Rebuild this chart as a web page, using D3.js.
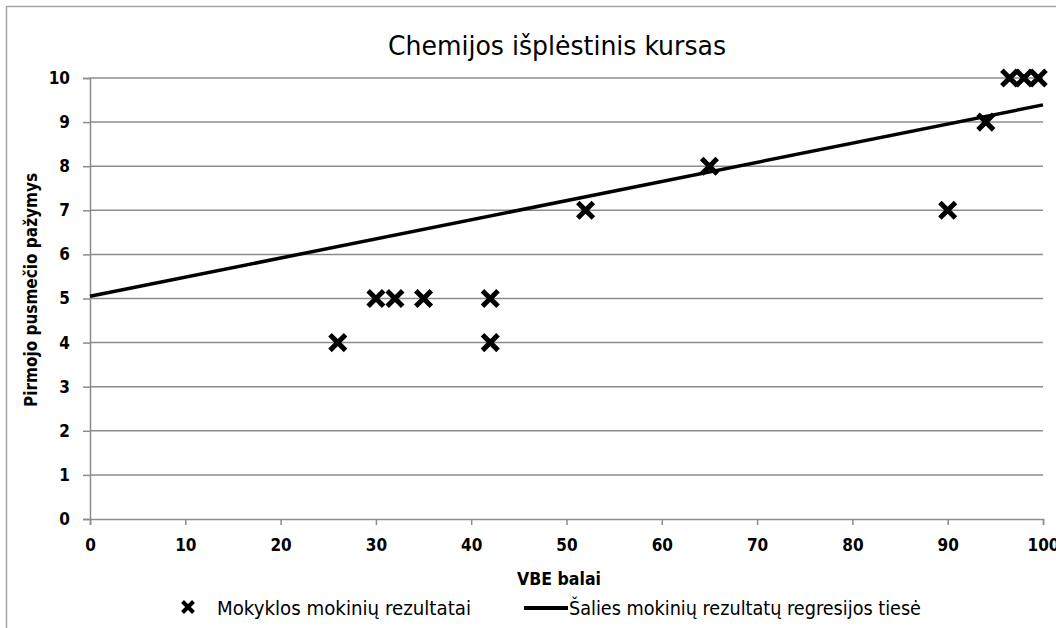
<!DOCTYPE html>
<html>
<head>
<meta charset="utf-8">
<script src="https://cdn.jsdelivr.net/npm/d3@7"></script>
<style>
  body { margin: 0; background: #fff; }
  text { font-family: "DejaVu Sans Condensed", "Liberation Sans", sans-serif; fill: #000; }
</style>
</head>
<body>
<svg id="chart"></svg>
<script>
const vbe = [26, 30, 32, 35, 42, 42, 52, 65, 90, 94, 96.5, 98, 99.5];
const pazymys = [4, 5, 5, 5, 5, 4, 7, 8, 7, 9, 10, 10, 10];
const regX = [0, 100];
const regY = [5.05, 9.39];
const xTicks = [0, 10, 20, 30, 40, 50, 60, 70, 80, 90, 100];
const yTicks = [0, 1, 2, 3, 4, 5, 6, 7, 8, 9, 10];

const W = 1056, H = 628;
const margin = { top: 78, right: 13, bottom: 109, left: 90 };
const width = W - margin.left - margin.right;
const height = H - margin.top - margin.bottom;
const font = '"DejaVu Sans Condensed", "Liberation Sans", sans-serif';

const root = d3.select('#chart').attr('width', W).attr('height', H);

root.append('rect').
  attr('x', 6.5).attr('y', 6.5).
  attr('width', W + 20).attr('height', H + 20).
  attr('fill', 'none').attr('stroke', '#a6a6a6').attr('stroke-width', 1.5);

const svg = root.append('g').attr('transform', `translate(${margin.left},${margin.top})`);

const x = d3.scaleLinear().domain([0, 100]).range([0, width]);
const y = d3.scaleLinear().domain([0, 10]).range([height, 0]);

// gridlines
svg.selectAll('.grid').
  data(yTicks.slice(1)).
  enter().
  append('line').
  attr('x1', 0).attr('x2', width).
  attr('y1', d => y(d)).attr('y2', d => y(d)).
  attr('stroke', '#8c8c8c').attr('stroke-width', 1.5);

const xAxis = svg.append('g').
  attr('transform', `translate(0,${height})`).
  call(d3.axisBottom(x).tickValues(xTicks).tickSize(6).tickPadding(14));
const yAxis = svg.append('g').
  call(d3.axisLeft(y).tickValues(yTicks).tickSize(7).tickPadding(13));

[xAxis, yAxis].forEach(a => {
  a.selectAll('path, line').attr('stroke', '#8c8c8c').attr('stroke-width', 1.5);
  a.selectAll('text').
    style('font-size', '17px').style('font-weight', 'bold').
    style('font-family', font);
});

// regression line
const line = d3.line().x(d => x(d[0])).y(d => y(d[1]));
svg.append('path').
  datum(regX.map((v, i) => [v, regY[i]])).
  attr('d', line).
  attr('fill', 'none').attr('stroke', '#000').attr('stroke-width', 3.5);

// markers
const cross = d3.symbol().type(d3.symbolX).size(160);
svg.selectAll('.pt').
  data(vbe.map((v, i) => [v, pazymys[i]])).
  enter().
  append('path').
  attr('d', cross).
  attr('transform', d => `translate(${x(d[0])},${y(d[1])})`).
  attr('fill', 'none').attr('stroke', '#000').attr('stroke-width', 5);

// title
root.append('text').
  attr('x', 557).attr('y', 55).
  attr('text-anchor', 'middle').
  attr('textLength', 338).attr('lengthAdjust', 'spacingAndGlyphs').
  style('font-size', '27px').
  text('Chemijos išplėstinis kursas');

// axis titles
root.append('text').
  attr('x', 559).attr('y', 585).
  attr('text-anchor', 'middle').
  attr('textLength', 84).attr('lengthAdjust', 'spacingAndGlyphs').
  style('font-size', '18px').style('font-weight', 'bold').
  text('VBE balai');

root.append('text').
  attr('transform', 'translate(37,290) rotate(-90)').
  attr('text-anchor', 'middle').
  attr('textLength', 234).attr('lengthAdjust', 'spacingAndGlyphs').
  style('font-size', '18px').style('font-weight', 'bold').
  text('Pirmojo pusmečio pažymys');

// legend
const lg = root.append('g');
lg.append('path').
  attr('d', d3.symbol().type(d3.symbolX).size(80)).
  attr('transform', 'translate(188,607)').
  attr('fill', 'none').attr('stroke', '#000').attr('stroke-width', 4);
lg.append('text').
  attr('x', 217).attr('y', 615).
  attr('textLength', 254).attr('lengthAdjust', 'spacingAndGlyphs').
  style('font-size', '19px').
  text('Mokyklos mokinių rezultatai');
lg.append('line').
  attr('x1', 524).attr('x2', 568).
  attr('y1', 608).attr('y2', 608).
  attr('stroke', '#000').attr('stroke-width', 4);
lg.append('text').
  attr('x', 569).attr('y', 615).
  attr('textLength', 352).attr('lengthAdjust', 'spacingAndGlyphs').
  style('font-size', '19px').
  text('Šalies mokinių rezultatų regresijos tiesė');
</script>
</body>
</html>
